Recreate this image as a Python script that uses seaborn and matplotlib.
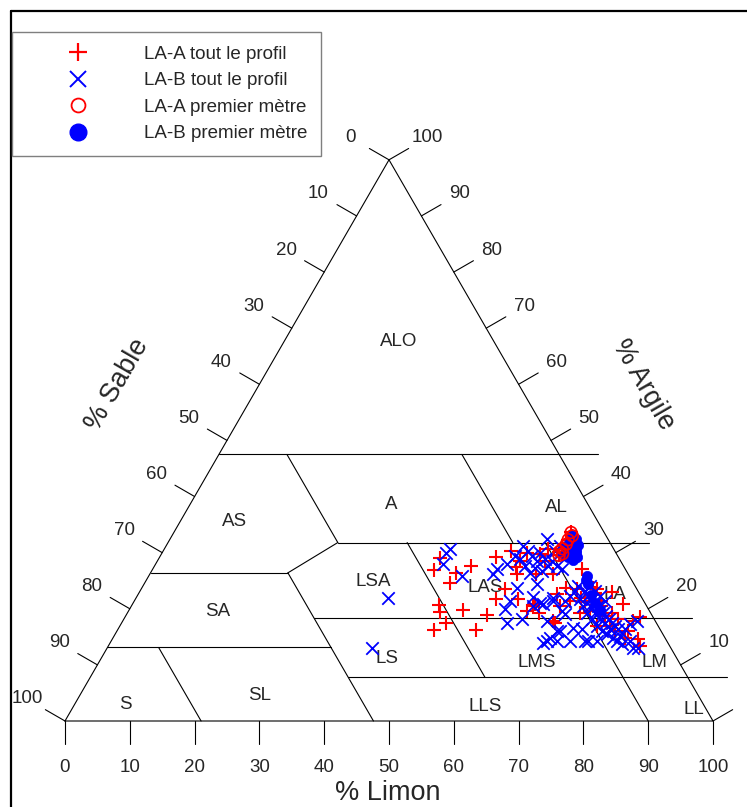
import numpy as np
import pandas as pd
import seaborn as sns
import matplotlib.pyplot as plt
from matplotlib.lines import Line2D

sns.set_theme(style="white")
plt.rcParams['font.family'] = ['Liberation Sans', 'DejaVu Sans']

# LA-A tout le profil (% limon, % argile)
la_a_limon = [43.3, 43.5, 47.1, 47.1, 48.9, 47.4, 48.2, 50.1, 48.8, 51.5, 55.3, 55.7,
              51.9, 53.6, 55.9, 56.2, 55.6, 59.0, 56.7, 56.0, 56.4, 59.6, 61.5, 63.5,
              62.1, 62.2, 66.8, 64.6, 65.4, 59.9, 58.4, 59.2, 66.3, 67.3, 69.7, 69.5,
              71.2, 72.4, 74.0, 75.7, 75.7, 76.2, 78.8, 81.1, 78.9, 76.9, 73.7, 69.9,
              67.2, 66.2, 82.0, 79.0, 66.4, 72.0, 74.8, 70.4, 62.0, 68.7, 70.3, 72.9,
              79.4, 61.3, 61.8, 61.5, 61.6, 61.4, 61.2, 61.5, 61.9]
la_a_argile = [29.1, 26.9, 24.6, 26.4, 27.6, 20.7, 19.4, 17.5, 16.2, 19.8, 16.2, 18.9,
               29.2, 30.3, 27.4, 23.5, 21.7, 21.7, 26.2, 28.5, 29.9, 26.2, 19.6, 19.2,
               20.8, 26.2, 17.5, 22.6, 23.7, 28.5, 29.8, 30.6, 27.1, 23.5, 23.7, 21.4,
               19.6, 20.5, 18.7, 16.9, 20.8, 18.2, 17.8, 14.6, 16.0, 16.0, 16.9, 19.2,
               21.4, 20.5, 13.4, 14.8, 17.8, 21.4, 19.2, 22.8, 20.5, 21.9, 23.6, 23.0,
               18.6, 33.6, 33.0, 32.3, 31.5, 30.7, 30.2, 29.5, 29.8]

# LA-B tout le profil
la_b_limon = [44.1, 43.85, 44.3, 48.4, 38.85, 40.9, 52.9, 53.15, 54.2, 57.95, 55.1, 55.75,
              54.7, 56.35, 57.4, 58.55, 58.35, 59.65, 60.7, 58.85, 57.2, 58.6, 60.25, 58.2,
              60.8, 60.45, 60.95, 62.1, 63.15, 57.9, 59.45, 61.4, 61.95, 65.5, 63.4, 64.35,
              67.9, 67.4, 66.85, 66.9, 70.1, 73.55, 62.8, 67.65, 68.4, 67.25, 68.75, 71.6,
              73.05, 74.95, 75.85, 78.05, 80.05, 78.55, 79.4, 81.2, 79.15, 81.9, 68.6, 69.55,
              70.45, 71.3, 72.05, 72.8, 73.4, 74.15, 74.9, 75.65, 76.45, 77.1, 70.75, 72.2,
              73.5, 74.55, 75.9, 68.65, 69.65, 71.0, 72.2, 73.65, 74.9, 67.1, 67.15, 68.95,
              70.2, 71.45, 72.6, 66.75, 66.5, 64.6, 78.05, 78.2, 77.2, 70.75, 58.0, 60.6,
              61.15]
la_b_argile = [30.6, 29.9, 28.0, 25.8, 21.9, 13.0, 26.2, 27.1, 28.0, 23.7, 31.2, 28.9,
               29.4, 30.3, 29.4, 28.5, 29.9, 28.9, 27.6, 27.3, 27.6, 26.4, 26.7, 32.4,
               31.2, 30.3, 28.5, 27.6, 27.1, 20.0, 17.5, 18.2, 20.5, 17.8, 20.8, 21.9,
               16.0, 14.8, 13.9, 19.6, 16.6, 14.3, 21.0, 19.1, 16.0, 14.3, 14.3, 16.4,
               14.3, 14.3, 15.5, 14.3, 14.3, 17.3, 17.8, 13.0, 13.7, 13.0, 23.2, 22.3,
               21.7, 21.0, 20.5, 19.6, 19.2, 18.7, 18.2, 17.5, 16.9, 16.4, 20.5, 19.2,
               18.2, 17.5, 16.4, 21.7, 20.5, 19.2, 18.2, 16.9, 16.0, 23.2, 24.1, 24.1,
               23.2, 22.3, 21.4, 22.3, 21.4, 21.4, 15.1, 16.4, 14.8, 14.3, 21.4, 24.4,
               22.1]

# LA-A premier metre
la_a1_limon = [61.3, 61.8, 61.5, 61.6, 61.4, 61.2, 61.5, 61.9]
la_a1_argile = [33.6, 33.0, 32.3, 31.5, 30.7, 30.2, 29.5, 29.8]

# LA-B premier metre
la_b1_limon = [62.05, 62.8, 62.5, 63.6, 63.4, 64.4, 63.0, 64.1, 63.5, 62.3, 62.7, 61.8,
               62.0, 62.3, 63.9, 67.7, 67.8, 68.5, 70.0, 71.3, 72.6]
la_b1_argile = [32.1, 31.5, 30.8, 30.5, 29.8, 29.2, 29.2, 28.7, 31.4, 30.3, 32.4, 33.0,
                31.0, 29.6, 30.0, 25.8, 25.1, 24.4, 22.4, 21.0, 19.8]

legend_labels = ["LA-A tout le profil", "LA-B tout le profil",
                 "LA-A premier mètre", "LA-B premier mètre"]

# texture classes: label, % limon, % argile
classes = ["ALO", "A", "AL", "AS", "SA", "S", "SL", "LSA", "LS", "LAS", "LA",
           "LMS", "LM", "LLS", "LL"]
class_limon = [17.65, 31.05, 56.85, 8.35, 13.7, 7.9, 27.8, 35.1, 44.1, 52.95, 73.65,
               67.55, 85.65, 63.55, 96.05]
class_argile = [67.7, 38.5, 38.1, 35.5, 19.6, 3.0, 4.6, 24.8, 11.2, 23.7, 22.5,
                10.5, 10.5, 2.5, 2.1]

# class boundaries as (% sable, % argile) end points
bounds = [
    ((52.5, 47.5), (-6, 47.5)),
    ((42.0, 31.8), (-6, 31.8)),
    ((73.6, 26.4), (52.4, 26.4)),
    ((52.4, 18.4), (-6, 18.4)),
    ((86.9, 13.1), (52.4, 13.1)),
    ((52.4, 7.8), (-6, 7.8)),
    ((42.0, 47.5), (42.0, 31.8)),
    ((15.0, 47.5), (15.0, 31.8)),
    ((42.0, 31.8), (52.4, 26.4)),
    ((52.4, 26.4), (52.4, 0.0)),
    ((79.0, 13.1), (79.0, 0.0)),
    ((31.3, 31.8), (31.3, 7.8)),
    ((10.0, 31.8), (10.0, 0.0)),
]

ticks = np.arange(0, 101, 10)
R3 = np.sqrt(3) / 2


def tern(limon, argile):
    limon = np.asarray(limon, float)
    argile = np.asarray(argile, float)
    return limon + argile / 2, argile * R3


def from_sable(sable, argile):
    return tern(100 - sable - argile, argile)


W, H = 747, 807
fig = plt.figure(figsize=(W / 100, H / 100), dpi=100)
ax = fig.add_axes([0, 0, 1, 1])
ppu = 6.48
ax.set_xlim(-65 / ppu, (W - 65) / ppu)
ax.set_ylim((721 - H) / ppu, 721 / ppu)
ax.axis('off')

lw = 0.8
# triangle
tx, ty = tern([0, 100, 0, 0], [0, 0, 100, 0])
ax.plot(tx, ty, color='black', lw=lw)

for (s0, a0), (s1, a1) in bounds:
    x0, y0 = from_sable(s0, a0)
    x1, y1 = from_sable(s1, a1)
    ax.plot([x0, x1], [y0, y1], color='black', lw=lw)

fs = 13.5
tick_len = 3.5
lab_off = 6.8
nl = np.array([-R3, 0.5])
nr = np.array([R3, 0.5])
for v in ticks:
    # bottom: % Limon
    ax.plot([v, v], [0, -tick_len], color='black', lw=lw)
    ax.text(v, -7.1, f"{v}", ha='center', va='center', fontsize=fs)
    # left: % Sable
    px, py = from_sable(v, 100 - v)
    ax.plot([px, px + tick_len * nl[0]], [py, py + tick_len * nl[1]], color='black', lw=lw)
    ax.text(px + lab_off * nl[0], py + lab_off * nl[1], f"{v}", ha='center', va='center', fontsize=fs)
    # right: % Argile (the 0 label falls outside the picture)
    px, py = tern(100 - v, v)
    ax.plot([px, px + tick_len * nr[0]], [py, py + tick_len * nr[1]], color='black', lw=lw)
    if v > 0:
        ax.text(px + lab_off * nr[0], py + lab_off * nr[1], f"{v}", ha='center', va='center', fontsize=fs)

cx, cy = tern(class_limon, class_argile)
for name, x, y in zip(classes, cx, cy):
    ax.text(x, y, name, ha='center', va='center', fontsize=fs)

ax.text(49.85, -11.1, "% Limon", ha='center', va='center', fontsize=19.5)
ax.text(8.0, 51.85, "% Sable", ha='center', va='center', fontsize=19.5, rotation=60)
ax.text(89.2, 51.85, "% Argile", ha='center', va='center', fontsize=19.5, rotation=-60)

red, blue = '#FF0000', '#0000FF'
x, y = tern(la_a_limon, la_a_argile)
sns.scatterplot(x=x, y=y, ax=ax, marker='+', color=red, s=90, linewidth=1.5, zorder=3)
x, y = tern(la_b_limon, la_b_argile)
sns.scatterplot(x=x, y=y, ax=ax, marker='x', color=blue, s=80, linewidth=1.3, zorder=3)
x, y = tern(la_b1_limon, la_b1_argile)
sns.scatterplot(x=x, y=y, ax=ax, marker='o', color=blue, edgecolor=blue, s=55,
                linewidth=0.5, zorder=4)
x, y = tern(la_a1_limon, la_a1_argile)
sns.scatterplot(x=x, y=y, ax=ax, marker='o', facecolor='none', edgecolor=red, s=70,
                linewidth=1.2, zorder=5)

handles = [
    Line2D([], [], ls='none', marker='+', color=red, markersize=13, markeredgewidth=1.6),
    Line2D([], [], ls='none', marker='x', color=blue, markersize=11, markeredgewidth=1.4),
    Line2D([], [], ls='none', marker='o', mfc='none', mec=red, markersize=10, markeredgewidth=1.3),
    Line2D([], [], ls='none', marker='o', color=blue, markersize=12),
]
leg = fig.legend(handles, legend_labels, loc='upper left',
                 bbox_to_anchor=(12 / W, 1 - 32 / H), borderaxespad=0, fontsize=fs,
                 frameon=True, fancybox=False, edgecolor='#7f7f7f', framealpha=1,
                 borderpad=0.73, handlelength=5.58, handletextpad=0.73, labelspacing=0.5)
leg.get_frame().set_linewidth(1.0)

# outer frame
fig.add_artist(Line2D([10.5 / W, 10.5 / W], [0, 1 - 10.5 / H], color='black', lw=1.6,
                      transform=fig.transFigure))
fig.add_artist(Line2D([10.5 / W, 1], [1 - 10.5 / H, 1 - 10.5 / H], color='black', lw=1.6,
                      transform=fig.transFigure))

fig.savefig("out.png", dpi=100)
